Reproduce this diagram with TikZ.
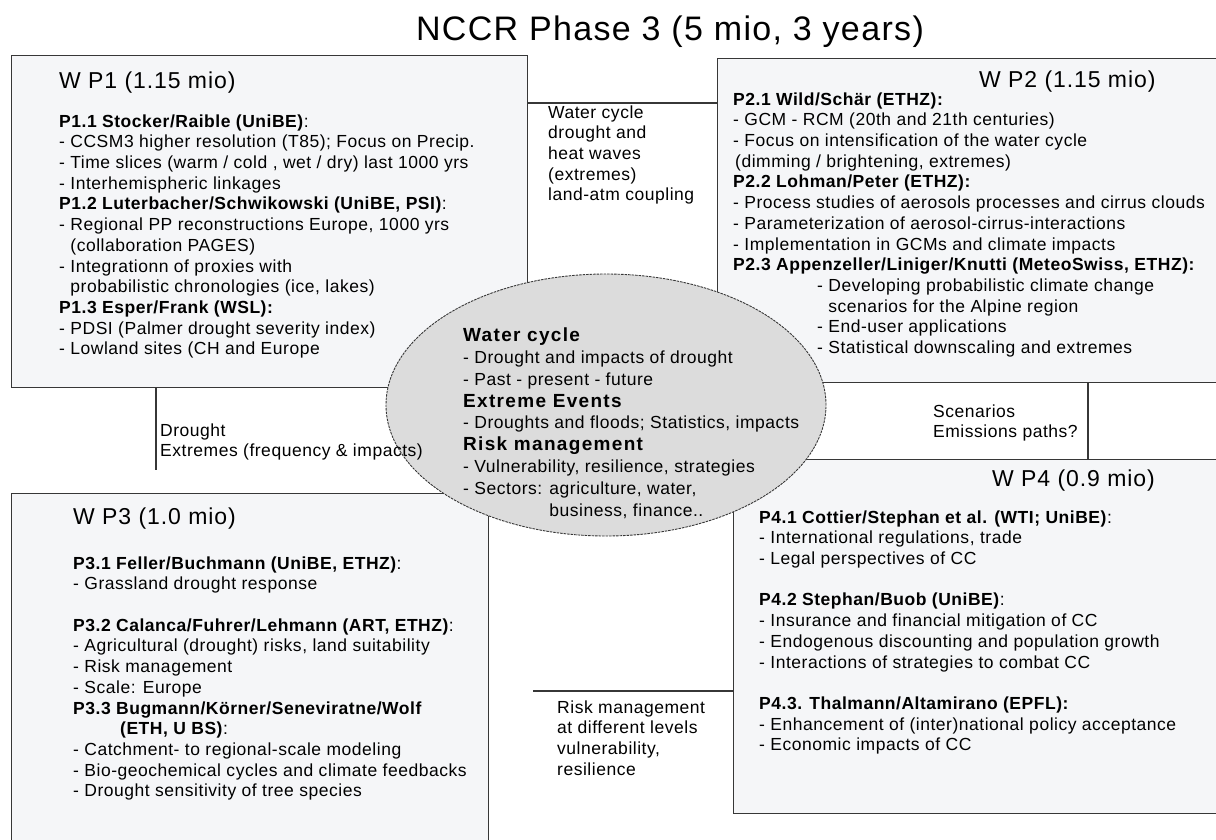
\documentclass[tikz,border=0pt]{standalone}
\usepackage{fontspec}
\setmainfont{Liberation Sans}
\newfontfamily\bodyfont[LetterSpace=3]{Liberation Sans}
\newfontfamily\headfont[LetterSpace=4]{Liberation Sans}
\newfontfamily\hubfont[LetterSpace=7]{Liberation Sans}
\usetikzlibrary{shapes.geometric}
\definecolor{boxfill}{RGB}{245,246,248}
\definecolor{hubfill}{RGB}{220,220,220}
\definecolor{edge}{RGB}{55,55,55}
\begin{document}
\begin{tikzpicture}[
        x=1pt, y=-1pt,
        wpbox/.style={rectangle, draw=edge, fill=boxfill, line width=1.2pt, anchor=north west, inner sep=0pt},
        hub/.style={ellipse, draw=edge, fill=hubfill, line width=0.9pt, dash pattern=on 2.5pt off 1pt, inner sep=0pt},
        body/.style={anchor=north west, align=left, inner sep=0pt, font=\bodyfont\fontsize{17.5}{20.7}\selectfont},
        head/.style={anchor=base west, inner sep=0pt, font=\headfont\fontsize{23}{26}\selectfont},
        link/.style={draw=edge, line width=1.2pt}
    ]
        \path[use as bounding box, clip] (0,0) rectangle (1216,839);

        \node[anchor=base, inner sep=0pt, font=\headfont\fontsize{34}{38}\selectfont] (title) at (670,40) {NCCR Phase 3 (5 mio, 3 years)};

        \node[wpbox, minimum width=516pt, minimum height=332pt] (wp1) at (11,55) {};
        \node[wpbox, minimum width=505pt, minimum height=324pt] (wp2) at (717,58) {};
        \node[wpbox, minimum width=477pt, minimum height=352pt] (wp3) at (11,493) {};
        \node[wpbox, minimum width=489pt, minimum height=354pt] (wp4) at (733,459) {};

        \node[head] (wp1head) at (59,88) {W P1 (1.15 mio)};
        \node[body] (wp1text) at (59,114.3) {\textbf{P1.1 Stocker/Raible (UniBE)}:\\
            - CCSM3 higher resolution (T85); Focus on Precip.\\
            - Time slices (warm / cold , wet / dry) last 1000 yrs\\
            - Interhemispheric linkages\\
            \textbf{P1.2 Luterbacher/Schwikowski (UniBE, PSI)}:\\
            - Regional PP reconstructions Europe, 1000 yrs\\
            \phantom{- }(collaboration PAGES)\\
            - Integrationn of proxies with\\
            \phantom{- }probabilistic chronologies (ice, lakes)\\
            \textbf{P1.3 Esper/Frank (WSL):}\\
            - PDSI (Palmer drought severity index)\\
            - Lowland sites (CH and Europe};

        \node[head] (wp2head) at (979,87) {W P2 (1.15 mio)};
        \node[body] (wp2text) at (733,92.3) {\textbf{P2.1 Wild/Schär (ETHZ):}\\
            - GCM - RCM (20th and 21th centuries)\\
            - Focus on intensification of the water cycle\\
            \hspace*{2pt}(dimming / brightening, extremes)\\
            \textbf{P2.2 Lohman/Peter (ETHZ):}\\
            - Process studies of aerosols processes and cirrus clouds\\
            - Parameterization of aerosol-cirrus-interactions\\
            - Implementation in GCMs and climate impacts\\
            \textbf{P2.3 Appenzeller/Liniger/Knutti (MeteoSwiss, ETHZ):}\\
            \hspace*{84pt}- Developing probabilistic climate change\\
            \hspace*{84pt}\phantom{- }scenarios for the Alpine region\\
            \hspace*{84pt}- End-user applications\\
            \hspace*{84pt}- Statistical downscaling and extremes};

        \node[head] (wp3head) at (73,524) {W P3 (1.0 mio)};
        \node[body] (wp3text) at (73,556.3) {\textbf{P3.1 Feller/Buchmann (UniBE, ETHZ)}:\\
            - Grassland drought response\\
            ~\\
            \textbf{P3.2 Calanca/Fuhrer/Lehmann (ART, ETHZ)}:\\
            - Agricultural (drought) risks, land suitability\\
            - Risk management\\
            - Scale: Europe\\
            \textbf{P3.3 Bugmann/Körner/Seneviratne/Wolf}\\
            \hspace*{47pt}\textbf{(ETH, U BS)}:\\
            - Catchment- to regional-scale modeling\\
            - Bio-geochemical cycles and climate feedbacks\\
            - Drought sensitivity of tree species};

        \node[head] (wp4head) at (992,486) {W P4 (0.9 mio)};
        \node[body] (wp4text) at (759,510.3) {\textbf{P4.1 Cottier/Stephan et al. (WTI; UniBE)}:\\
            - International regulations, trade\\
            - Legal perspectives of CC\\
            ~\\
            \textbf{P4.2 Stephan/Buob (UniBE)}:\\
            - Insurance and financial mitigation of CC\\
            - Endogenous discounting and population growth\\
            - Interactions of strategies to combat CC\\
            ~\\
            \textbf{P4.3. Thalmann/Altamirano (EPFL):}\\
            - Enhancement of (inter)national policy acceptance\\
            - Economic impacts of CC};

        \node[hub, minimum width=440pt, minimum height=262pt] (hub) at (606,405) {};
        \node[body, font=\bodyfont\fontsize{17.5}{21.9}\selectfont] (hubtext) at (463,327.4) {{\hubfont\fontsize{19}{21.9}\selectfont\bfseries Water cycle}\\
            - Drought and impacts of drought\\
            - Past - present - future\\
            {\hubfont\fontsize{19}{21.9}\selectfont\bfseries Extreme Events}\\
            - Droughts and floods; Statistics, impacts\\
            {\hubfont\fontsize{19}{21.9}\selectfont\bfseries Risk management}\\
            - Vulnerability, resilience, strategies\\
            - Sectors: agriculture, water,\\
            \phantom{- Sectors: }business, finance..};

        \coordinate (wcj) at (0,103);
        \coordinate (drj) at (156,470);
        \coordinate (scj) at (1088,0);
        \coordinate (rkj) at (533,691);
        \draw[link] (wp1.east |- wcj) -- (wp2.west |- wcj);
        \draw[link] (wp1.south -| drj) -- (drj);
        \draw[link] (wp2.south -| scj) -- (wp4.north -| scj);
        \draw[link] (rkj) -- (wp4.west |- rkj);

        \node[body] (wclab) at (548,105.3) {Water cycle\\ drought and\\ heat waves\\ (extremes)\\ land-atm coupling};
        \node[body] (drlab) at (160,423.3) {Drought\\ Extremes (frequency \& impacts)};
        \node[body] (sclab) at (933,404.3) {Scenarios\\ Emissions paths?};
        \node[body] (rklab) at (557,700.3) {Risk management\\ at different levels\\ vulnerability,\\ resilience};
    \end{tikzpicture}
\end{document}
